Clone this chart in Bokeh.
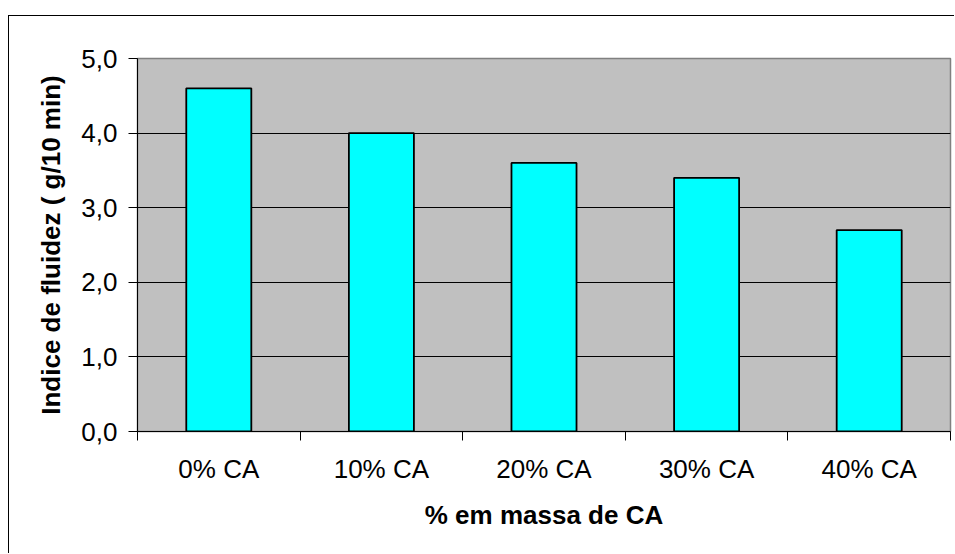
from bokeh.plotting import figure
from bokeh.models import FixedTicker, CustomJSTickFormatter, Range1d, ColumnDataSource
from bokeh.embed import file_html
from bokeh.resources import INLINE

categories = ["0% CA", "10% CA", "20% CA", "30% CA", "40% CA"]
values = [4.6, 4.0, 3.6, 3.4, 2.7]
y_ticks = [0, 1, 2, 3, 4, 5]
x_title = "% em massa de CA"
y_title = "Indice de fluidez ( g/10 min)"

xpos = [i + 0.5 for i in range(len(categories))]
src = ColumnDataSource(dict(x=xpos, top=values, cat=categories))

FONT = "Liberation Sans"

p = figure(width=946, height=538, output_backend="svg", toolbar_location=None,
           x_range=Range1d(0, len(categories)), y_range=Range1d(0, 5),
           min_border_left=128, min_border_top=42, min_border_bottom=123, min_border_right=5)
# outer chart border (top and left visible, like the reference)
p.styles = {"margin-left": "8px", "margin-top": "15px",
            "border-left": "1px solid black", "border-top": "1px solid black"}

p.background_fill_color = "#C0C0C0"
p.border_fill_color = "white"
p.outline_line_color = "#808080"
p.outline_line_width = 1.5

p.vbar(x="x", top="top", width=0.4, bottom=0, source=src,
       fill_color="#00FFFF", line_color="black", line_width=1.8)

p.xgrid.visible = False
p.ygrid.grid_line_color = "black"
p.ygrid.grid_line_width = 1
p.ygrid.level = "underlay"

yax = p.yaxis[0]
yax.ticker = FixedTicker(ticks=y_ticks, minor_ticks=[])
yax.formatter = CustomJSTickFormatter(code="return tick.toFixed(1).replace('.', ',');")
yax.major_tick_out = 9
yax.major_tick_in = 0
yax.major_label_standoff = 11
yax.axis_line_color = "black"
yax.major_tick_line_color = "black"
yax.major_label_text_font = FONT
yax.major_label_text_font_size = "26px"
yax.major_label_text_color = "black"
yax.axis_label = y_title
yax.axis_label_text_font = FONT
yax.axis_label_text_font_size = "26px"
yax.axis_label_text_font_style = "bold"
yax.axis_label_text_color = "black"
yax.axis_label_standoff = 12

xax = p.xaxis[0]
xax.ticker = FixedTicker(ticks=xpos, minor_ticks=list(range(len(categories) + 1)))
xax.formatter = CustomJSTickFormatter(args=dict(labels=categories),
                                      code="return labels[Math.floor(tick)];")
xax.major_tick_out = 0
xax.major_tick_in = 0
xax.minor_tick_out = 9
xax.minor_tick_in = 0
xax.minor_tick_line_color = "black"
xax.axis_line_color = "black"
xax.major_label_standoff = 13
xax.major_label_text_font = FONT
xax.major_label_text_font_size = "26px"
xax.major_label_text_color = "black"
xax.axis_label = x_title
xax.axis_label_text_font = FONT
xax.axis_label_text_font_size = "26px"
xax.axis_label_text_font_style = "bold"
xax.axis_label_text_color = "black"
xax.axis_label_standoff = 13

open("out.html", "w").write(file_html(p, INLINE))
